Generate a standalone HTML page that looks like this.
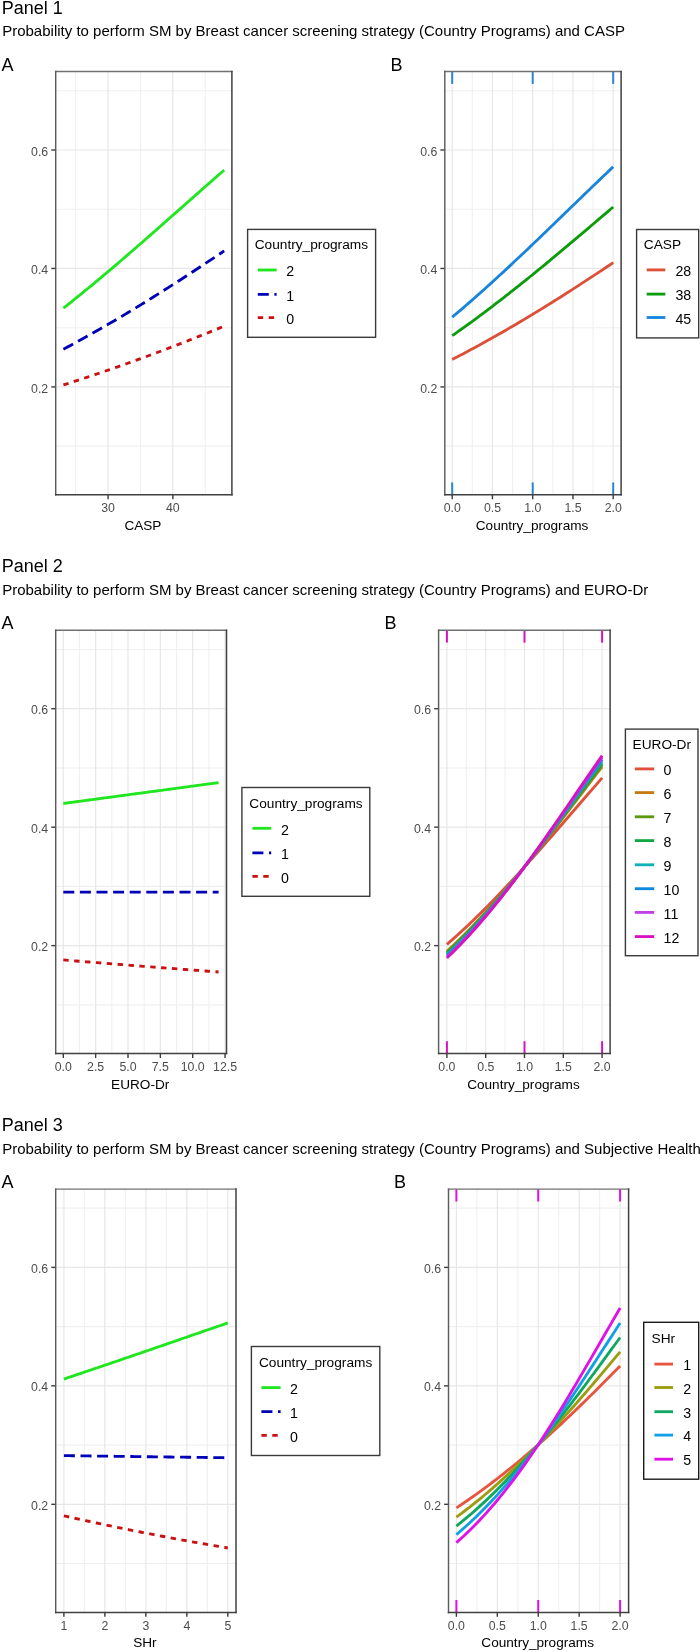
<!DOCTYPE html>
<html><head><meta charset="utf-8"><style>
html,body{margin:0;padding:0;background:#fff;width:700px;height:1652px;overflow:hidden;}
svg{display:block;filter:blur(0.35px);}
text{font-family:"Liberation Sans", sans-serif;}
</style></head><body>
<svg width="700" height="1652" viewBox="0 0 700 1652">
<rect width="700" height="1652" fill="#fff"/>
<text x="1.80" y="13.50" font-size="18" text-anchor="start" fill="#000" >Panel 1</text>
<text x="2.20" y="36.20" font-size="15" text-anchor="start" fill="#000" >Probability to perform SM by Breast cancer screening strategy (Country Programs) and CASP</text>
<text x="1.80" y="571.80" font-size="18" text-anchor="start" fill="#000" >Panel 2</text>
<text x="2.20" y="594.70" font-size="15" text-anchor="start" fill="#000" >Probability to perform SM by Breast cancer screening strategy (Country Programs) and EURO-Dr</text>
<text x="1.80" y="1131.20" font-size="18" text-anchor="start" fill="#000" >Panel 3</text>
<text x="2.20" y="1154.20" font-size="15" text-anchor="start" fill="#000" >Probability to perform SM by Breast cancer screening strategy (Country Programs) and Subjective Health</text>
<rect x="55.7" y="71.5" width="176.2" height="423.3" fill="#fff"/>
<line x1="55.7" x2="231.9" y1="446.15" y2="446.15" stroke="#f0f0f0" stroke-width="1.1"/>
<line x1="55.7" x2="231.9" y1="327.69" y2="327.69" stroke="#f0f0f0" stroke-width="1.1"/>
<line x1="55.7" x2="231.9" y1="209.23" y2="209.23" stroke="#f0f0f0" stroke-width="1.1"/>
<line x1="55.7" x2="231.9" y1="90.77" y2="90.77" stroke="#f0f0f0" stroke-width="1.1"/>
<line x1="75.65" x2="75.65" y1="71.5" y2="494.8" stroke="#f0f0f0" stroke-width="1.1"/>
<line x1="140.45" x2="140.45" y1="71.5" y2="494.8" stroke="#f0f0f0" stroke-width="1.1"/>
<line x1="205.25" x2="205.25" y1="71.5" y2="494.8" stroke="#f0f0f0" stroke-width="1.1"/>
<line x1="55.7" x2="231.9" y1="386.92" y2="386.92" stroke="#e7e7e7" stroke-width="1.2"/>
<line x1="55.7" x2="231.9" y1="268.46" y2="268.46" stroke="#e7e7e7" stroke-width="1.2"/>
<line x1="55.7" x2="231.9" y1="150.00" y2="150.00" stroke="#e7e7e7" stroke-width="1.2"/>
<line x1="108.05" x2="108.05" y1="71.5" y2="494.8" stroke="#e7e7e7" stroke-width="1.2"/>
<line x1="172.85" x2="172.85" y1="71.5" y2="494.8" stroke="#e7e7e7" stroke-width="1.2"/>
<line x1="51.30" x2="55.7" y1="386.92" y2="386.92" stroke="#3a3a3a" stroke-width="1.4"/>
<text x="48.20" y="392.52" font-size="12.3" text-anchor="end" fill="#4d4d4d" >0.2</text>
<line x1="51.30" x2="55.7" y1="268.46" y2="268.46" stroke="#3a3a3a" stroke-width="1.4"/>
<text x="48.20" y="274.06" font-size="12.3" text-anchor="end" fill="#4d4d4d" >0.4</text>
<line x1="51.30" x2="55.7" y1="150.00" y2="150.00" stroke="#3a3a3a" stroke-width="1.4"/>
<text x="48.20" y="155.60" font-size="12.3" text-anchor="end" fill="#4d4d4d" >0.6</text>
<line x1="108.05" x2="108.05" y1="494.8" y2="499.20" stroke="#3a3a3a" stroke-width="1.4"/>
<text x="108.05" y="512.30" font-size="12.3" text-anchor="middle" fill="#4d4d4d" >30</text>
<line x1="172.85" x2="172.85" y1="494.8" y2="499.20" stroke="#3a3a3a" stroke-width="1.4"/>
<text x="172.85" y="512.30" font-size="12.3" text-anchor="middle" fill="#4d4d4d" >40</text>
<text x="142.90" y="529.80" font-size="13.6" text-anchor="middle" fill="#000" >CASP</text>
<path d="M63.40,308.14 L66.08,306.03 L68.76,303.91 L71.44,301.78 L74.12,299.63 L76.80,297.48 L79.48,295.32 L82.16,293.14 L84.84,290.96 L87.52,288.76 L90.20,286.56 L92.88,284.35 L95.56,282.13 L98.24,279.90 L100.92,277.66 L103.59,275.41 L106.27,273.15 L108.95,270.89 L111.63,268.62 L114.31,266.34 L116.99,264.06 L119.67,261.76 L122.35,259.47 L125.03,257.16 L127.71,254.85 L130.39,252.54 L133.07,250.21 L135.75,247.89 L138.43,245.55 L141.11,243.22 L143.79,240.88 L146.47,238.53 L149.15,236.19 L151.83,233.83 L154.51,231.48 L157.18,229.12 L159.86,226.76 L162.54,224.40 L165.22,222.03 L167.90,219.67 L170.58,217.30 L173.26,214.93 L175.94,212.56 L178.62,210.19 L181.30,207.82 L183.98,205.45 L186.66,203.09 L189.34,200.72 L192.02,198.35 L194.70,195.98 L197.38,193.62 L200.06,191.26 L202.74,188.90 L205.42,186.54 L208.09,184.19 L210.77,181.84 L213.45,179.49 L216.13,177.14 L218.81,174.80 L221.49,172.47 L224.17,170.14" fill="none" stroke="#20e620" stroke-width="2.85" stroke-linecap="butt" stroke-linejoin="round"/>
<path d="M63.40,349.25 L66.08,347.82 L68.76,346.38 L71.44,344.94 L74.12,343.48 L76.80,342.02 L79.48,340.55 L82.16,339.07 L84.84,337.58 L87.52,336.09 L90.20,334.58 L92.88,333.07 L95.56,331.56 L98.24,330.03 L100.92,328.49 L103.59,326.95 L106.27,325.40 L108.95,323.85 L111.63,322.28 L114.31,320.71 L116.99,319.13 L119.67,317.54 L122.35,315.95 L125.03,314.35 L127.71,312.74 L130.39,311.13 L133.07,309.50 L135.75,307.88 L138.43,306.24 L141.11,304.60 L143.79,302.95 L146.47,301.29 L149.15,299.63 L151.83,297.96 L154.51,296.29 L157.18,294.61 L159.86,292.92 L162.54,291.23 L165.22,289.53 L167.90,287.83 L170.58,286.12 L173.26,284.41 L175.94,282.69 L178.62,280.96 L181.30,279.23 L183.98,277.49 L186.66,275.75 L189.34,274.01 L192.02,272.26 L194.70,270.50 L197.38,268.74 L200.06,266.98 L202.74,265.21 L205.42,263.44 L208.09,261.66 L210.77,259.88 L213.45,258.10 L216.13,256.31 L218.81,254.52 L221.49,252.73 L224.17,250.93" fill="none" stroke="#0000b8" stroke-width="2.85" stroke-linecap="butt" stroke-linejoin="round" stroke-dasharray="11 5.6"/>
<path d="M63.40,384.91 L66.08,384.06 L68.76,383.20 L71.44,382.34 L74.12,381.48 L76.80,380.61 L79.48,379.74 L82.16,378.86 L84.84,377.98 L87.52,377.09 L90.20,376.20 L92.88,375.31 L95.56,374.41 L98.24,373.50 L100.92,372.60 L103.59,371.68 L106.27,370.77 L108.95,369.85 L111.63,368.92 L114.31,367.99 L116.99,367.05 L119.67,366.12 L122.35,365.17 L125.03,364.22 L127.71,363.27 L130.39,362.32 L133.07,361.35 L135.75,360.39 L138.43,359.42 L141.11,358.44 L143.79,357.47 L146.47,356.48 L149.15,355.50 L151.83,354.50 L154.51,353.51 L157.18,352.51 L159.86,351.50 L162.54,350.50 L165.22,349.48 L167.90,348.47 L170.58,347.44 L173.26,346.42 L175.94,345.39 L178.62,344.35 L181.30,343.32 L183.98,342.27 L186.66,341.23 L189.34,340.18 L192.02,339.12 L194.70,338.06 L197.38,337.00 L200.06,335.93 L202.74,334.86 L205.42,333.79 L208.09,332.71 L210.77,331.62 L213.45,330.54 L216.13,329.45 L218.81,328.35 L221.49,327.25 L224.17,326.15" fill="none" stroke="#cc1010" stroke-width="2.85" stroke-linecap="butt" stroke-linejoin="round" stroke-dasharray="5.4 5.5"/>
<line x1="55.7" x2="231.9" y1="71.5" y2="71.5" stroke="#707070" stroke-width="1.35" stroke-linecap="square"/>
<line x1="55.7" x2="55.7" y1="71.5" y2="494.8" stroke="#5c5c5c" stroke-width="1.45" stroke-linecap="square"/>
<line x1="231.9" x2="231.9" y1="71.5" y2="494.8" stroke="#404040" stroke-width="1.5" stroke-linecap="square"/>
<line x1="55.7" x2="231.9" y1="494.8" y2="494.8" stroke="#404040" stroke-width="1.5" stroke-linecap="square"/>
<text x="1.50" y="70.80" font-size="18" text-anchor="start" fill="#000" >A</text>
<rect x="247.6" y="229.4" width="128.00000000000003" height="107.9" fill="#fff" stroke="#3a3a3a" stroke-width="1.4"/>
<text x="254.70" y="248.90" font-size="13.7" text-anchor="start" fill="#000" >Country_programs</text>
<line x1="257.8" x2="276.6" y1="270.0" y2="270.0" stroke="#20e620" stroke-width="2.85" stroke-linecap="butt"/>
<line x1="257.8" x2="276.6" y1="294.4" y2="294.4" stroke="#0000b8" stroke-width="2.85" stroke-dasharray="11 5.6" stroke-linecap="butt"/>
<line x1="257.8" x2="276.6" y1="317.6" y2="317.6" stroke="#cc1010" stroke-width="2.85" stroke-dasharray="5.4 5.5" stroke-linecap="butt"/>
<text x="286.30" y="276.20" font-size="14.2" text-anchor="start" fill="#000" >2</text>
<text x="286.30" y="300.60" font-size="14.2" text-anchor="start" fill="#000" >1</text>
<text x="286.30" y="323.80" font-size="14.2" text-anchor="start" fill="#000" >0</text>
<rect x="444.8" y="71.5" width="176.3" height="423.3" fill="#fff"/>
<line x1="444.8" x2="621.1" y1="446.15" y2="446.15" stroke="#f0f0f0" stroke-width="1.1"/>
<line x1="444.8" x2="621.1" y1="327.69" y2="327.69" stroke="#f0f0f0" stroke-width="1.1"/>
<line x1="444.8" x2="621.1" y1="209.23" y2="209.23" stroke="#f0f0f0" stroke-width="1.1"/>
<line x1="444.8" x2="621.1" y1="90.77" y2="90.77" stroke="#f0f0f0" stroke-width="1.1"/>
<line x1="472.32" x2="472.32" y1="71.5" y2="494.8" stroke="#f0f0f0" stroke-width="1.1"/>
<line x1="512.58" x2="512.58" y1="71.5" y2="494.8" stroke="#f0f0f0" stroke-width="1.1"/>
<line x1="552.83" x2="552.83" y1="71.5" y2="494.8" stroke="#f0f0f0" stroke-width="1.1"/>
<line x1="593.08" x2="593.08" y1="71.5" y2="494.8" stroke="#f0f0f0" stroke-width="1.1"/>
<line x1="444.8" x2="621.1" y1="386.92" y2="386.92" stroke="#e7e7e7" stroke-width="1.2"/>
<line x1="444.8" x2="621.1" y1="268.46" y2="268.46" stroke="#e7e7e7" stroke-width="1.2"/>
<line x1="444.8" x2="621.1" y1="150.00" y2="150.00" stroke="#e7e7e7" stroke-width="1.2"/>
<line x1="452.20" x2="452.20" y1="71.5" y2="494.8" stroke="#e7e7e7" stroke-width="1.2"/>
<line x1="492.45" x2="492.45" y1="71.5" y2="494.8" stroke="#e7e7e7" stroke-width="1.2"/>
<line x1="532.70" x2="532.70" y1="71.5" y2="494.8" stroke="#e7e7e7" stroke-width="1.2"/>
<line x1="572.95" x2="572.95" y1="71.5" y2="494.8" stroke="#e7e7e7" stroke-width="1.2"/>
<line x1="613.20" x2="613.20" y1="71.5" y2="494.8" stroke="#e7e7e7" stroke-width="1.2"/>
<line x1="440.40" x2="444.8" y1="386.92" y2="386.92" stroke="#3a3a3a" stroke-width="1.4"/>
<text x="437.30" y="392.52" font-size="12.3" text-anchor="end" fill="#4d4d4d" >0.2</text>
<line x1="440.40" x2="444.8" y1="268.46" y2="268.46" stroke="#3a3a3a" stroke-width="1.4"/>
<text x="437.30" y="274.06" font-size="12.3" text-anchor="end" fill="#4d4d4d" >0.4</text>
<line x1="440.40" x2="444.8" y1="150.00" y2="150.00" stroke="#3a3a3a" stroke-width="1.4"/>
<text x="437.30" y="155.60" font-size="12.3" text-anchor="end" fill="#4d4d4d" >0.6</text>
<line x1="452.20" x2="452.20" y1="494.8" y2="499.20" stroke="#3a3a3a" stroke-width="1.4"/>
<text x="452.20" y="512.30" font-size="12.3" text-anchor="middle" fill="#4d4d4d" >0.0</text>
<line x1="492.45" x2="492.45" y1="494.8" y2="499.20" stroke="#3a3a3a" stroke-width="1.4"/>
<text x="492.45" y="512.30" font-size="12.3" text-anchor="middle" fill="#4d4d4d" >0.5</text>
<line x1="532.70" x2="532.70" y1="494.8" y2="499.20" stroke="#3a3a3a" stroke-width="1.4"/>
<text x="532.70" y="512.30" font-size="12.3" text-anchor="middle" fill="#4d4d4d" >1.0</text>
<line x1="572.95" x2="572.95" y1="494.8" y2="499.20" stroke="#3a3a3a" stroke-width="1.4"/>
<text x="572.95" y="512.30" font-size="12.3" text-anchor="middle" fill="#4d4d4d" >1.5</text>
<line x1="613.20" x2="613.20" y1="494.8" y2="499.20" stroke="#3a3a3a" stroke-width="1.4"/>
<text x="613.20" y="512.30" font-size="12.3" text-anchor="middle" fill="#4d4d4d" >2.0</text>
<text x="532.05" y="529.80" font-size="13.6" text-anchor="middle" fill="#000" >Country_programs</text>
<path d="M452.20,359.50 L454.88,358.11 L457.57,356.72 L460.25,355.31 L462.93,353.90 L465.62,352.48 L468.30,351.05 L470.98,349.61 L473.67,348.17 L476.35,346.71 L479.03,345.25 L481.72,343.78 L484.40,342.30 L487.08,340.81 L489.77,339.31 L492.45,337.81 L495.13,336.29 L497.82,334.77 L500.50,333.24 L503.18,331.70 L505.87,330.16 L508.55,328.61 L511.23,327.04 L513.92,325.47 L516.60,323.90 L519.28,322.31 L521.97,320.72 L524.65,319.12 L527.33,317.51 L530.02,315.90 L532.70,314.27 L535.38,312.64 L538.07,311.01 L540.75,309.36 L543.43,307.71 L546.12,306.06 L548.80,304.39 L551.48,302.72 L554.17,301.04 L556.85,299.36 L559.53,297.67 L562.22,295.97 L564.90,294.27 L567.58,292.56 L570.27,290.84 L572.95,289.12 L575.63,287.39 L578.32,285.66 L581.00,283.92 L583.68,282.17 L586.37,280.42 L589.05,278.67 L591.73,276.91 L594.42,275.14 L597.10,273.37 L599.78,271.60 L602.47,269.82 L605.15,268.03 L607.83,266.25 L610.52,264.45 L613.20,262.66" fill="none" stroke="#dc5038" stroke-width="2.85" stroke-linecap="butt" stroke-linejoin="round"/>
<path d="M452.20,335.69 L454.88,333.81 L457.57,331.92 L460.25,330.02 L462.93,328.10 L465.62,326.17 L468.30,324.24 L470.98,322.29 L473.67,320.32 L476.35,318.35 L479.03,316.37 L481.72,314.37 L484.40,312.37 L487.08,310.35 L489.77,308.32 L492.45,306.28 L495.13,304.23 L497.82,302.18 L500.50,300.11 L503.18,298.03 L505.87,295.94 L508.55,293.84 L511.23,291.73 L513.92,289.62 L516.60,287.49 L519.28,285.36 L521.97,283.22 L524.65,281.07 L527.33,278.91 L530.02,276.74 L532.70,274.57 L535.38,272.39 L538.07,270.20 L540.75,268.00 L543.43,265.80 L546.12,263.59 L548.80,261.37 L551.48,259.15 L554.17,256.93 L556.85,254.69 L559.53,252.46 L562.22,250.21 L564.90,247.96 L567.58,245.71 L570.27,243.46 L572.95,241.19 L575.63,238.93 L578.32,236.66 L581.00,234.39 L583.68,232.12 L586.37,229.84 L589.05,227.56 L591.73,225.28 L594.42,222.99 L597.10,220.71 L599.78,218.42 L602.47,216.14 L605.15,213.85 L607.83,211.56 L610.52,209.27 L613.20,206.98" fill="none" stroke="#0c9c0c" stroke-width="2.85" stroke-linecap="butt" stroke-linejoin="round"/>
<path d="M452.20,317.21 L454.88,314.95 L457.57,312.67 L460.25,310.38 L462.93,308.08 L465.62,305.77 L468.30,303.44 L470.98,301.10 L473.67,298.74 L476.35,296.38 L479.03,294.00 L481.72,291.61 L484.40,289.20 L487.08,286.79 L489.77,284.36 L492.45,281.93 L495.13,279.48 L497.82,277.02 L500.50,274.56 L503.18,272.08 L505.87,269.59 L508.55,267.10 L511.23,264.60 L513.92,262.08 L516.60,259.57 L519.28,257.04 L521.97,254.50 L524.65,251.96 L527.33,249.42 L530.02,246.86 L532.70,244.30 L535.38,241.74 L538.07,239.17 L540.75,236.60 L543.43,234.02 L546.12,231.44 L548.80,228.85 L551.48,226.26 L554.17,223.67 L556.85,221.08 L559.53,218.49 L562.22,215.89 L564.90,213.29 L567.58,210.70 L570.27,208.10 L572.95,205.50 L575.63,202.90 L578.32,200.31 L581.00,197.71 L583.68,195.12 L586.37,192.53 L589.05,189.94 L591.73,187.35 L594.42,184.77 L597.10,182.19 L599.78,179.62 L602.47,177.05 L605.15,174.48 L607.83,171.92 L610.52,169.37 L613.20,166.82" fill="none" stroke="#1a84dc" stroke-width="2.85" stroke-linecap="butt" stroke-linejoin="round"/>
<line x1="452.20" x2="452.20" y1="71.5" y2="83.9" stroke="#2a86d2" stroke-width="2"/>
<line x1="452.20" x2="452.20" y1="482.40000000000003" y2="494.8" stroke="#2a86d2" stroke-width="2"/>
<line x1="532.70" x2="532.70" y1="71.5" y2="83.9" stroke="#2a86d2" stroke-width="2"/>
<line x1="532.70" x2="532.70" y1="482.40000000000003" y2="494.8" stroke="#2a86d2" stroke-width="2"/>
<line x1="613.20" x2="613.20" y1="71.5" y2="83.9" stroke="#2a86d2" stroke-width="2"/>
<line x1="613.20" x2="613.20" y1="482.40000000000003" y2="494.8" stroke="#2a86d2" stroke-width="2"/>
<line x1="444.8" x2="621.1" y1="71.5" y2="71.5" stroke="#707070" stroke-width="1.35" stroke-linecap="square"/>
<line x1="444.8" x2="444.8" y1="71.5" y2="494.8" stroke="#5c5c5c" stroke-width="1.45" stroke-linecap="square"/>
<line x1="621.1" x2="621.1" y1="71.5" y2="494.8" stroke="#404040" stroke-width="1.5" stroke-linecap="square"/>
<line x1="444.8" x2="621.1" y1="494.8" y2="494.8" stroke="#404040" stroke-width="1.5" stroke-linecap="square"/>
<text x="390.60" y="70.90" font-size="18" text-anchor="start" fill="#000" >B</text>
<rect x="636.6" y="229.5" width="62.10000000000002" height="108.39999999999998" fill="#fff" stroke="#3a3a3a" stroke-width="1.4"/>
<text x="643.80" y="249.30" font-size="13.7" text-anchor="start" fill="#000" >CASP</text>
<line x1="646.7" x2="665.3" y1="269.9" y2="269.9" stroke="#dc5038" stroke-width="2.85" stroke-linecap="butt"/>
<text x="675.40" y="276.10" font-size="14.2" text-anchor="start" fill="#000" >28</text>
<line x1="646.7" x2="665.3" y1="294.1" y2="294.1" stroke="#0c9c0c" stroke-width="2.85" stroke-linecap="butt"/>
<text x="675.40" y="300.30" font-size="14.2" text-anchor="start" fill="#000" >38</text>
<line x1="646.7" x2="665.3" y1="317.5" y2="317.5" stroke="#1a84dc" stroke-width="2.85" stroke-linecap="butt"/>
<text x="675.40" y="323.70" font-size="14.2" text-anchor="start" fill="#000" >45</text>
<rect x="55.7" y="630.2" width="170.8" height="423.39999999999986" fill="#fff"/>
<line x1="55.7" x2="226.5" y1="1004.85" y2="1004.85" stroke="#f0f0f0" stroke-width="1.1"/>
<line x1="55.7" x2="226.5" y1="886.39" y2="886.39" stroke="#f0f0f0" stroke-width="1.1"/>
<line x1="55.7" x2="226.5" y1="767.93" y2="767.93" stroke="#f0f0f0" stroke-width="1.1"/>
<line x1="55.7" x2="226.5" y1="649.47" y2="649.47" stroke="#f0f0f0" stroke-width="1.1"/>
<line x1="79.47" x2="79.47" y1="630.2" y2="1053.6" stroke="#f0f0f0" stroke-width="1.1"/>
<line x1="111.82" x2="111.82" y1="630.2" y2="1053.6" stroke="#f0f0f0" stroke-width="1.1"/>
<line x1="144.18" x2="144.18" y1="630.2" y2="1053.6" stroke="#f0f0f0" stroke-width="1.1"/>
<line x1="176.52" x2="176.52" y1="630.2" y2="1053.6" stroke="#f0f0f0" stroke-width="1.1"/>
<line x1="208.88" x2="208.88" y1="630.2" y2="1053.6" stroke="#f0f0f0" stroke-width="1.1"/>
<line x1="55.7" x2="226.5" y1="945.62" y2="945.62" stroke="#e7e7e7" stroke-width="1.2"/>
<line x1="55.7" x2="226.5" y1="827.16" y2="827.16" stroke="#e7e7e7" stroke-width="1.2"/>
<line x1="55.7" x2="226.5" y1="708.70" y2="708.70" stroke="#e7e7e7" stroke-width="1.2"/>
<line x1="63.30" x2="63.30" y1="630.2" y2="1053.6" stroke="#e7e7e7" stroke-width="1.2"/>
<line x1="95.65" x2="95.65" y1="630.2" y2="1053.6" stroke="#e7e7e7" stroke-width="1.2"/>
<line x1="128.00" x2="128.00" y1="630.2" y2="1053.6" stroke="#e7e7e7" stroke-width="1.2"/>
<line x1="160.35" x2="160.35" y1="630.2" y2="1053.6" stroke="#e7e7e7" stroke-width="1.2"/>
<line x1="192.70" x2="192.70" y1="630.2" y2="1053.6" stroke="#e7e7e7" stroke-width="1.2"/>
<line x1="225.05" x2="225.05" y1="630.2" y2="1053.6" stroke="#e7e7e7" stroke-width="1.2"/>
<line x1="51.30" x2="55.7" y1="945.62" y2="945.62" stroke="#3a3a3a" stroke-width="1.4"/>
<text x="48.20" y="951.22" font-size="12.3" text-anchor="end" fill="#4d4d4d" >0.2</text>
<line x1="51.30" x2="55.7" y1="827.16" y2="827.16" stroke="#3a3a3a" stroke-width="1.4"/>
<text x="48.20" y="832.76" font-size="12.3" text-anchor="end" fill="#4d4d4d" >0.4</text>
<line x1="51.30" x2="55.7" y1="708.70" y2="708.70" stroke="#3a3a3a" stroke-width="1.4"/>
<text x="48.20" y="714.30" font-size="12.3" text-anchor="end" fill="#4d4d4d" >0.6</text>
<line x1="63.30" x2="63.30" y1="1053.6" y2="1058.00" stroke="#3a3a3a" stroke-width="1.4"/>
<text x="63.30" y="1071.10" font-size="12.3" text-anchor="middle" fill="#4d4d4d" >0.0</text>
<line x1="95.65" x2="95.65" y1="1053.6" y2="1058.00" stroke="#3a3a3a" stroke-width="1.4"/>
<text x="95.65" y="1071.10" font-size="12.3" text-anchor="middle" fill="#4d4d4d" >2.5</text>
<line x1="128.00" x2="128.00" y1="1053.6" y2="1058.00" stroke="#3a3a3a" stroke-width="1.4"/>
<text x="128.00" y="1071.10" font-size="12.3" text-anchor="middle" fill="#4d4d4d" >5.0</text>
<line x1="160.35" x2="160.35" y1="1053.6" y2="1058.00" stroke="#3a3a3a" stroke-width="1.4"/>
<text x="160.35" y="1071.10" font-size="12.3" text-anchor="middle" fill="#4d4d4d" >7.5</text>
<line x1="192.70" x2="192.70" y1="1053.6" y2="1058.00" stroke="#3a3a3a" stroke-width="1.4"/>
<text x="192.70" y="1071.10" font-size="12.3" text-anchor="middle" fill="#4d4d4d" >10.0</text>
<line x1="225.05" x2="225.05" y1="1053.6" y2="1058.00" stroke="#3a3a3a" stroke-width="1.4"/>
<text x="225.05" y="1071.10" font-size="12.3" text-anchor="middle" fill="#4d4d4d" >12.5</text>
<text x="140.20" y="1088.60" font-size="13.6" text-anchor="middle" fill="#000" >EURO-Dr</text>
<path d="M63.30,803.47 L65.89,803.12 L68.48,802.78 L71.06,802.43 L73.65,802.09 L76.24,801.74 L78.83,801.40 L81.42,801.05 L84.00,800.70 L86.59,800.36 L89.18,800.01 L91.77,799.67 L94.36,799.32 L96.94,798.97 L99.53,798.63 L102.12,798.28 L104.71,797.93 L107.30,797.59 L109.88,797.24 L112.47,796.89 L115.06,796.55 L117.65,796.20 L120.24,795.85 L122.82,795.51 L125.41,795.16 L128.00,794.81 L130.59,794.46 L133.18,794.12 L135.76,793.77 L138.35,793.42 L140.94,793.07 L143.53,792.73 L146.12,792.38 L148.70,792.03 L151.29,791.68 L153.88,791.34 L156.47,790.99 L159.06,790.64 L161.64,790.29 L164.23,789.94 L166.82,789.60 L169.41,789.25 L172.00,788.90 L174.58,788.55 L177.17,788.20 L179.76,787.85 L182.35,787.50 L184.94,787.16 L187.52,786.81 L190.11,786.46 L192.70,786.11 L195.29,785.76 L197.88,785.41 L200.46,785.06 L203.05,784.71 L205.64,784.36 L208.23,784.02 L210.82,783.67 L213.40,783.32 L215.99,782.97 L218.58,782.62" fill="none" stroke="#20e620" stroke-width="2.85" stroke-linecap="butt" stroke-linejoin="round"/>
<path d="M63.30,892.14 L65.89,892.14 L68.48,892.14 L71.06,892.14 L73.65,892.14 L76.24,892.14 L78.83,892.14 L81.42,892.14 L84.00,892.14 L86.59,892.14 L89.18,892.14 L91.77,892.14 L94.36,892.14 L96.94,892.14 L99.53,892.14 L102.12,892.14 L104.71,892.14 L107.30,892.14 L109.88,892.14 L112.47,892.14 L115.06,892.14 L117.65,892.14 L120.24,892.14 L122.82,892.14 L125.41,892.14 L128.00,892.14 L130.59,892.14 L133.18,892.14 L135.76,892.14 L138.35,892.14 L140.94,892.14 L143.53,892.14 L146.12,892.14 L148.70,892.14 L151.29,892.14 L153.88,892.14 L156.47,892.14 L159.06,892.14 L161.64,892.14 L164.23,892.14 L166.82,892.14 L169.41,892.14 L172.00,892.14 L174.58,892.14 L177.17,892.14 L179.76,892.14 L182.35,892.14 L184.94,892.14 L187.52,892.14 L190.11,892.14 L192.70,892.14 L195.29,892.14 L197.88,892.14 L200.46,892.14 L203.05,892.14 L205.64,892.14 L208.23,892.14 L210.82,892.14 L213.40,892.14 L215.99,892.14 L218.58,892.14" fill="none" stroke="#0000b8" stroke-width="2.85" stroke-linecap="butt" stroke-linejoin="round" stroke-dasharray="11 5.6"/>
<path d="M63.30,959.95 L65.89,960.16 L68.48,960.37 L71.06,960.58 L73.65,960.79 L76.24,961.00 L78.83,961.21 L81.42,961.42 L84.00,961.63 L86.59,961.83 L89.18,962.04 L91.77,962.25 L94.36,962.45 L96.94,962.66 L99.53,962.87 L102.12,963.07 L104.71,963.28 L107.30,963.48 L109.88,963.69 L112.47,963.89 L115.06,964.09 L117.65,964.30 L120.24,964.50 L122.82,964.70 L125.41,964.91 L128.00,965.11 L130.59,965.31 L133.18,965.51 L135.76,965.71 L138.35,965.91 L140.94,966.11 L143.53,966.31 L146.12,966.51 L148.70,966.71 L151.29,966.91 L153.88,967.11 L156.47,967.31 L159.06,967.51 L161.64,967.71 L164.23,967.90 L166.82,968.10 L169.41,968.30 L172.00,968.49 L174.58,968.69 L177.17,968.89 L179.76,969.08 L182.35,969.28 L184.94,969.47 L187.52,969.67 L190.11,969.86 L192.70,970.06 L195.29,970.25 L197.88,970.44 L200.46,970.64 L203.05,970.83 L205.64,971.02 L208.23,971.21 L210.82,971.40 L213.40,971.60 L215.99,971.79 L218.58,971.98" fill="none" stroke="#cc1010" stroke-width="2.85" stroke-linecap="butt" stroke-linejoin="round" stroke-dasharray="5.4 5.5"/>
<line x1="55.7" x2="226.5" y1="630.2" y2="630.2" stroke="#707070" stroke-width="1.35" stroke-linecap="square"/>
<line x1="55.7" x2="55.7" y1="630.2" y2="1053.6" stroke="#5c5c5c" stroke-width="1.45" stroke-linecap="square"/>
<line x1="226.5" x2="226.5" y1="630.2" y2="1053.6" stroke="#404040" stroke-width="1.5" stroke-linecap="square"/>
<line x1="55.7" x2="226.5" y1="1053.6" y2="1053.6" stroke="#404040" stroke-width="1.5" stroke-linecap="square"/>
<text x="1.50" y="629.30" font-size="18" text-anchor="start" fill="#000" >A</text>
<rect x="241.9" y="787.5" width="127.9" height="108.79999999999995" fill="#fff" stroke="#3a3a3a" stroke-width="1.4"/>
<text x="249.30" y="808.20" font-size="13.7" text-anchor="start" fill="#000" >Country_programs</text>
<line x1="252.4" x2="271.2" y1="828.3" y2="828.3" stroke="#20e620" stroke-width="2.85" stroke-linecap="butt"/>
<line x1="252.4" x2="271.2" y1="852.8" y2="852.8" stroke="#0000b8" stroke-width="2.85" stroke-dasharray="11 5.6" stroke-linecap="butt"/>
<line x1="252.4" x2="271.2" y1="876.3" y2="876.3" stroke="#cc1010" stroke-width="2.85" stroke-dasharray="5.4 5.5" stroke-linecap="butt"/>
<text x="280.90" y="834.50" font-size="14.2" text-anchor="start" fill="#000" >2</text>
<text x="280.90" y="859.00" font-size="14.2" text-anchor="start" fill="#000" >1</text>
<text x="280.90" y="882.50" font-size="14.2" text-anchor="start" fill="#000" >0</text>
<rect x="438.6" y="630.2" width="171.5" height="423.39999999999986" fill="#fff"/>
<line x1="438.6" x2="610.1" y1="1004.85" y2="1004.85" stroke="#f0f0f0" stroke-width="1.1"/>
<line x1="438.6" x2="610.1" y1="886.39" y2="886.39" stroke="#f0f0f0" stroke-width="1.1"/>
<line x1="438.6" x2="610.1" y1="767.93" y2="767.93" stroke="#f0f0f0" stroke-width="1.1"/>
<line x1="438.6" x2="610.1" y1="649.47" y2="649.47" stroke="#f0f0f0" stroke-width="1.1"/>
<line x1="466.30" x2="466.30" y1="630.2" y2="1053.6" stroke="#f0f0f0" stroke-width="1.1"/>
<line x1="505.10" x2="505.10" y1="630.2" y2="1053.6" stroke="#f0f0f0" stroke-width="1.1"/>
<line x1="543.90" x2="543.90" y1="630.2" y2="1053.6" stroke="#f0f0f0" stroke-width="1.1"/>
<line x1="582.70" x2="582.70" y1="630.2" y2="1053.6" stroke="#f0f0f0" stroke-width="1.1"/>
<line x1="438.6" x2="610.1" y1="945.62" y2="945.62" stroke="#e7e7e7" stroke-width="1.2"/>
<line x1="438.6" x2="610.1" y1="827.16" y2="827.16" stroke="#e7e7e7" stroke-width="1.2"/>
<line x1="438.6" x2="610.1" y1="708.70" y2="708.70" stroke="#e7e7e7" stroke-width="1.2"/>
<line x1="446.90" x2="446.90" y1="630.2" y2="1053.6" stroke="#e7e7e7" stroke-width="1.2"/>
<line x1="485.70" x2="485.70" y1="630.2" y2="1053.6" stroke="#e7e7e7" stroke-width="1.2"/>
<line x1="524.50" x2="524.50" y1="630.2" y2="1053.6" stroke="#e7e7e7" stroke-width="1.2"/>
<line x1="563.30" x2="563.30" y1="630.2" y2="1053.6" stroke="#e7e7e7" stroke-width="1.2"/>
<line x1="602.10" x2="602.10" y1="630.2" y2="1053.6" stroke="#e7e7e7" stroke-width="1.2"/>
<line x1="434.20" x2="438.6" y1="945.62" y2="945.62" stroke="#3a3a3a" stroke-width="1.4"/>
<text x="431.10" y="951.22" font-size="12.3" text-anchor="end" fill="#4d4d4d" >0.2</text>
<line x1="434.20" x2="438.6" y1="827.16" y2="827.16" stroke="#3a3a3a" stroke-width="1.4"/>
<text x="431.10" y="832.76" font-size="12.3" text-anchor="end" fill="#4d4d4d" >0.4</text>
<line x1="434.20" x2="438.6" y1="708.70" y2="708.70" stroke="#3a3a3a" stroke-width="1.4"/>
<text x="431.10" y="714.30" font-size="12.3" text-anchor="end" fill="#4d4d4d" >0.6</text>
<line x1="446.90" x2="446.90" y1="1053.6" y2="1058.00" stroke="#3a3a3a" stroke-width="1.4"/>
<text x="446.90" y="1071.10" font-size="12.3" text-anchor="middle" fill="#4d4d4d" >0.0</text>
<line x1="485.70" x2="485.70" y1="1053.6" y2="1058.00" stroke="#3a3a3a" stroke-width="1.4"/>
<text x="485.70" y="1071.10" font-size="12.3" text-anchor="middle" fill="#4d4d4d" >0.5</text>
<line x1="524.50" x2="524.50" y1="1053.6" y2="1058.00" stroke="#3a3a3a" stroke-width="1.4"/>
<text x="524.50" y="1071.10" font-size="12.3" text-anchor="middle" fill="#4d4d4d" >1.0</text>
<line x1="563.30" x2="563.30" y1="1053.6" y2="1058.00" stroke="#3a3a3a" stroke-width="1.4"/>
<text x="563.30" y="1071.10" font-size="12.3" text-anchor="middle" fill="#4d4d4d" >1.5</text>
<line x1="602.10" x2="602.10" y1="1053.6" y2="1058.00" stroke="#3a3a3a" stroke-width="1.4"/>
<text x="602.10" y="1071.10" font-size="12.3" text-anchor="middle" fill="#4d4d4d" >2.0</text>
<text x="523.45" y="1088.60" font-size="13.6" text-anchor="middle" fill="#000" >Country_programs</text>
<path d="M446.90,944.44 L449.49,942.18 L452.07,939.90 L454.66,937.60 L457.25,935.27 L459.83,932.91 L462.42,930.53 L465.01,928.12 L467.59,925.69 L470.18,923.24 L472.77,920.76 L475.35,918.26 L477.94,915.74 L480.53,913.20 L483.11,910.63 L485.70,908.04 L488.29,905.43 L490.87,902.80 L493.46,900.14 L496.05,897.47 L498.63,894.78 L501.22,892.07 L503.81,889.34 L506.39,886.59 L508.98,883.83 L511.57,881.05 L514.15,878.25 L516.74,875.43 L519.33,872.60 L521.91,869.76 L524.50,866.90 L527.09,864.03 L529.67,861.15 L532.26,858.25 L534.85,855.34 L537.43,852.43 L540.02,849.50 L542.61,846.56 L545.19,843.61 L547.78,840.66 L550.37,837.69 L552.95,834.72 L555.54,831.75 L558.13,828.77 L560.71,825.78 L563.30,822.79 L565.89,819.79 L568.47,816.80 L571.06,813.80 L573.65,810.80 L576.23,807.79 L578.82,804.79 L581.41,801.79 L583.99,798.79 L586.58,795.79 L589.17,792.80 L591.75,789.81 L594.34,786.82 L596.93,783.83 L599.51,780.85 L602.10,777.88" fill="none" stroke="#e0503a" stroke-width="2.85" stroke-linecap="butt" stroke-linejoin="round"/>
<path d="M446.90,951.26 L449.49,948.88 L452.07,946.47 L454.66,944.02 L457.25,941.54 L459.83,939.03 L462.42,936.49 L465.01,933.92 L467.59,931.31 L470.18,928.68 L472.77,926.01 L475.35,923.31 L477.94,920.59 L480.53,917.83 L483.11,915.04 L485.70,912.23 L488.29,909.38 L490.87,906.51 L493.46,903.61 L496.05,900.69 L498.63,897.73 L501.22,894.76 L503.81,891.75 L506.39,888.73 L508.98,885.67 L511.57,882.60 L514.15,879.50 L516.74,876.38 L519.33,873.24 L521.91,870.08 L524.50,866.90 L527.09,863.71 L529.67,860.49 L532.26,857.26 L534.85,854.01 L537.43,850.74 L540.02,847.46 L542.61,844.17 L545.19,840.86 L547.78,837.55 L550.37,834.22 L552.95,830.88 L555.54,827.53 L558.13,824.17 L560.71,820.81 L563.30,817.44 L565.89,814.07 L568.47,810.69 L571.06,807.30 L573.65,803.92 L576.23,800.53 L578.82,797.14 L581.41,793.76 L583.99,790.37 L586.58,786.99 L589.17,783.60 L591.75,780.23 L594.34,776.85 L596.93,773.49 L599.51,770.13 L602.10,766.78" fill="none" stroke="#c47c10" stroke-width="2.85" stroke-linecap="butt" stroke-linejoin="round"/>
<path d="M446.90,952.40 L449.49,950.00 L452.07,947.56 L454.66,945.10 L457.25,942.59 L459.83,940.06 L462.42,937.49 L465.01,934.89 L467.59,932.26 L470.18,929.59 L472.77,926.89 L475.35,924.16 L477.94,921.40 L480.53,918.61 L483.11,915.79 L485.70,912.93 L488.29,910.05 L490.87,907.14 L493.46,904.20 L496.05,901.23 L498.63,898.23 L501.22,895.21 L503.81,892.16 L506.39,889.09 L508.98,885.99 L511.57,882.86 L514.15,879.71 L516.74,876.54 L519.33,873.35 L521.91,870.14 L524.50,866.90 L527.09,863.65 L529.67,860.38 L532.26,857.09 L534.85,853.78 L537.43,850.46 L540.02,847.12 L542.61,843.77 L545.19,840.40 L547.78,837.02 L550.37,833.63 L552.95,830.23 L555.54,826.82 L558.13,823.40 L560.71,819.97 L563.30,816.54 L565.89,813.10 L568.47,809.66 L571.06,806.21 L573.65,802.76 L576.23,799.31 L578.82,795.86 L581.41,792.41 L583.99,788.96 L586.58,785.51 L589.17,782.07 L591.75,778.63 L594.34,775.19 L596.93,771.76 L599.51,768.34 L602.10,764.92" fill="none" stroke="#5e9810" stroke-width="2.85" stroke-linecap="butt" stroke-linejoin="round"/>
<path d="M446.90,953.53 L449.49,951.11 L452.07,948.66 L454.66,946.17 L457.25,943.64 L459.83,941.08 L462.42,938.49 L465.01,935.86 L467.59,933.20 L470.18,930.50 L472.77,927.77 L475.35,925.01 L477.94,922.22 L480.53,919.39 L483.11,916.53 L485.70,913.64 L488.29,910.72 L490.87,907.77 L493.46,904.78 L496.05,901.77 L498.63,898.73 L501.22,895.66 L503.81,892.57 L506.39,889.45 L508.98,886.30 L511.57,883.12 L514.15,879.93 L516.74,876.70 L519.33,873.46 L521.91,870.19 L524.50,866.90 L527.09,863.59 L529.67,860.27 L532.26,856.92 L534.85,853.55 L537.43,850.17 L540.02,846.77 L542.61,843.36 L545.19,839.93 L547.78,836.49 L550.37,833.04 L552.95,829.58 L555.54,826.11 L558.13,822.62 L560.71,819.14 L563.30,815.64 L565.89,812.14 L568.47,808.63 L571.06,805.12 L573.65,801.60 L576.23,798.09 L578.82,794.57 L581.41,791.06 L583.99,787.54 L586.58,784.03 L589.17,780.53 L591.75,777.02 L594.34,773.52 L596.93,770.03 L599.51,766.55 L602.10,763.07" fill="none" stroke="#10a840" stroke-width="2.85" stroke-linecap="butt" stroke-linejoin="round"/>
<path d="M446.90,954.67 L449.49,952.23 L452.07,949.76 L454.66,947.24 L457.25,944.70 L459.83,942.11 L462.42,939.49 L465.01,936.84 L467.59,934.15 L470.18,931.42 L472.77,928.66 L475.35,925.86 L477.94,923.03 L480.53,920.17 L483.11,917.28 L485.70,914.35 L488.29,911.39 L490.87,908.39 L493.46,905.37 L496.05,902.32 L498.63,899.23 L501.22,896.12 L503.81,892.98 L506.39,889.81 L508.98,886.61 L511.57,883.39 L514.15,880.14 L516.74,876.87 L519.33,873.57 L521.91,870.25 L524.50,866.90 L527.09,863.54 L529.67,860.15 L532.26,856.75 L534.85,853.33 L537.43,849.88 L540.02,846.43 L542.61,842.95 L545.19,839.47 L547.78,835.96 L550.37,832.45 L552.95,828.93 L555.54,825.39 L558.13,821.85 L560.71,818.29 L563.30,814.73 L565.89,811.17 L568.47,807.60 L571.06,804.02 L573.65,800.44 L576.23,796.86 L578.82,793.28 L581.41,789.71 L583.99,786.13 L586.58,782.55 L589.17,778.98 L591.75,775.42 L594.34,771.86 L596.93,768.30 L599.51,764.76 L602.10,761.22" fill="none" stroke="#10b0b8" stroke-width="2.85" stroke-linecap="butt" stroke-linejoin="round"/>
<path d="M446.90,955.81 L449.49,953.35 L452.07,950.85 L454.66,948.32 L457.25,945.75 L459.83,943.14 L462.42,940.49 L465.01,937.81 L467.59,935.09 L470.18,932.34 L472.77,929.54 L475.35,926.72 L477.94,923.85 L480.53,920.96 L483.11,918.02 L485.70,915.06 L488.29,912.06 L490.87,909.03 L493.46,905.96 L496.05,902.86 L498.63,899.74 L501.22,896.58 L503.81,893.39 L506.39,890.17 L508.98,886.93 L511.57,883.65 L514.15,880.35 L516.74,877.03 L519.33,873.68 L521.91,870.30 L524.50,866.90 L527.09,863.48 L529.67,860.04 L532.26,856.58 L534.85,853.10 L537.43,849.60 L540.02,846.08 L542.61,842.55 L545.19,839.00 L547.78,835.43 L550.37,831.86 L552.95,828.27 L555.54,824.67 L558.13,821.06 L560.71,817.45 L563.30,813.82 L565.89,810.19 L568.47,806.56 L571.06,802.92 L573.65,799.28 L576.23,795.64 L578.82,791.99 L581.41,788.35 L583.99,784.71 L586.58,781.07 L589.17,777.44 L591.75,773.81 L594.34,770.19 L596.93,766.57 L599.51,762.97 L602.10,759.37" fill="none" stroke="#1088e0" stroke-width="2.85" stroke-linecap="butt" stroke-linejoin="round"/>
<path d="M446.90,956.94 L449.49,954.47 L452.07,951.95 L454.66,949.40 L457.25,946.80 L459.83,944.17 L462.42,941.50 L465.01,938.79 L467.59,936.04 L470.18,933.26 L472.77,930.43 L475.35,927.57 L477.94,924.68 L480.53,921.74 L483.11,918.78 L485.70,915.77 L488.29,912.73 L490.87,909.66 L493.46,906.55 L496.05,903.41 L498.63,900.24 L501.22,897.04 L503.81,893.80 L506.39,890.54 L508.98,887.24 L511.57,883.92 L514.15,880.57 L516.74,877.19 L519.33,873.79 L521.91,870.36 L524.50,866.90 L527.09,863.43 L529.67,859.93 L532.26,856.41 L534.85,852.87 L537.43,849.31 L540.02,845.73 L542.61,842.14 L545.19,838.53 L547.78,834.90 L550.37,831.26 L552.95,827.61 L555.54,823.95 L558.13,820.28 L560.71,816.60 L563.30,812.91 L565.89,809.22 L568.47,805.52 L571.06,801.82 L573.65,798.11 L576.23,794.40 L578.82,790.70 L581.41,786.99 L583.99,783.29 L586.58,779.59 L589.17,775.89 L591.75,772.20 L594.34,768.52 L596.93,764.84 L599.51,761.18 L602.10,757.52" fill="none" stroke="#c040e8" stroke-width="2.85" stroke-linecap="butt" stroke-linejoin="round"/>
<path d="M446.90,958.08 L449.49,955.59 L452.07,953.05 L454.66,950.47 L457.25,947.86 L459.83,945.20 L462.42,942.50 L465.01,939.77 L467.59,936.99 L470.18,934.18 L472.77,931.32 L475.35,928.43 L477.94,925.50 L480.53,922.53 L483.11,919.53 L485.70,916.49 L488.29,913.41 L490.87,910.30 L493.46,907.15 L496.05,903.97 L498.63,900.75 L501.22,897.50 L503.81,894.22 L506.39,890.90 L508.98,887.56 L511.57,884.19 L514.15,880.78 L516.74,877.35 L519.33,873.90 L521.91,870.41 L524.50,866.90 L527.09,863.37 L529.67,859.81 L532.26,856.24 L534.85,852.64 L537.43,849.02 L540.02,845.38 L542.61,841.72 L545.19,838.05 L547.78,834.37 L550.37,830.67 L552.95,826.95 L555.54,823.23 L558.13,819.49 L560.71,815.75 L563.30,812.00 L565.89,808.24 L568.47,804.48 L571.06,800.71 L573.65,796.94 L576.23,793.17 L578.82,789.40 L581.41,785.63 L583.99,781.86 L586.58,778.10 L589.17,774.34 L591.75,770.59 L594.34,766.85 L596.93,763.11 L599.51,759.38 L602.10,755.67" fill="none" stroke="#d812c0" stroke-width="2.85" stroke-linecap="butt" stroke-linejoin="round"/>
<line x1="446.90" x2="446.90" y1="630.2" y2="642.6" stroke="#d812c0" stroke-width="2"/>
<line x1="446.90" x2="446.90" y1="1041.1999999999998" y2="1053.6" stroke="#d812c0" stroke-width="2"/>
<line x1="524.50" x2="524.50" y1="630.2" y2="642.6" stroke="#d812c0" stroke-width="2"/>
<line x1="524.50" x2="524.50" y1="1041.1999999999998" y2="1053.6" stroke="#d812c0" stroke-width="2"/>
<line x1="602.10" x2="602.10" y1="630.2" y2="642.6" stroke="#d812c0" stroke-width="2"/>
<line x1="602.10" x2="602.10" y1="1041.1999999999998" y2="1053.6" stroke="#d812c0" stroke-width="2"/>
<line x1="438.6" x2="610.1" y1="630.2" y2="630.2" stroke="#707070" stroke-width="1.35" stroke-linecap="square"/>
<line x1="438.6" x2="438.6" y1="630.2" y2="1053.6" stroke="#5c5c5c" stroke-width="1.45" stroke-linecap="square"/>
<line x1="610.1" x2="610.1" y1="630.2" y2="1053.6" stroke="#404040" stroke-width="1.5" stroke-linecap="square"/>
<line x1="438.6" x2="610.1" y1="1053.6" y2="1053.6" stroke="#404040" stroke-width="1.5" stroke-linecap="square"/>
<text x="384.50" y="629.30" font-size="18" text-anchor="start" fill="#000" >B</text>
<rect x="625.4" y="729.1" width="72.60000000000002" height="226.60000000000002" fill="#fff" stroke="#3a3a3a" stroke-width="1.4"/>
<text x="632.50" y="748.70" font-size="13.7" text-anchor="start" fill="#000" >EURO-Dr</text>
<line x1="634.8" x2="654.2" y1="768.9" y2="768.9" stroke="#e0503a" stroke-width="2.85" stroke-linecap="butt"/>
<text x="663.60" y="775.10" font-size="14.2" text-anchor="start" fill="#000" >0</text>
<line x1="634.8" x2="654.2" y1="792.6" y2="792.6" stroke="#c47c10" stroke-width="2.85" stroke-linecap="butt"/>
<text x="663.60" y="798.80" font-size="14.2" text-anchor="start" fill="#000" >6</text>
<line x1="634.8" x2="654.2" y1="816.8" y2="816.8" stroke="#5e9810" stroke-width="2.85" stroke-linecap="butt"/>
<text x="663.60" y="823.00" font-size="14.2" text-anchor="start" fill="#000" >7</text>
<line x1="634.8" x2="654.2" y1="840.6" y2="840.6" stroke="#10a840" stroke-width="2.85" stroke-linecap="butt"/>
<text x="663.60" y="846.80" font-size="14.2" text-anchor="start" fill="#000" >8</text>
<line x1="634.8" x2="654.2" y1="864.8" y2="864.8" stroke="#10b0b8" stroke-width="2.85" stroke-linecap="butt"/>
<text x="663.60" y="871.00" font-size="14.2" text-anchor="start" fill="#000" >9</text>
<line x1="634.8" x2="654.2" y1="888.7" y2="888.7" stroke="#1088e0" stroke-width="2.85" stroke-linecap="butt"/>
<text x="663.60" y="894.90" font-size="14.2" text-anchor="start" fill="#000" >10</text>
<line x1="634.8" x2="654.2" y1="912.4" y2="912.4" stroke="#c040e8" stroke-width="2.85" stroke-linecap="butt"/>
<text x="663.60" y="918.60" font-size="14.2" text-anchor="start" fill="#000" >11</text>
<line x1="634.8" x2="654.2" y1="936.6" y2="936.6" stroke="#d812c0" stroke-width="2.85" stroke-linecap="butt"/>
<text x="663.60" y="942.80" font-size="14.2" text-anchor="start" fill="#000" >12</text>
<rect x="55.7" y="1189.1" width="180.3" height="423.3000000000002" fill="#fff"/>
<line x1="55.7" x2="236.0" y1="1563.55" y2="1563.55" stroke="#f0f0f0" stroke-width="1.1"/>
<line x1="55.7" x2="236.0" y1="1445.09" y2="1445.09" stroke="#f0f0f0" stroke-width="1.1"/>
<line x1="55.7" x2="236.0" y1="1326.63" y2="1326.63" stroke="#f0f0f0" stroke-width="1.1"/>
<line x1="55.7" x2="236.0" y1="1208.17" y2="1208.17" stroke="#f0f0f0" stroke-width="1.1"/>
<line x1="84.39" x2="84.39" y1="1189.1" y2="1612.4" stroke="#f0f0f0" stroke-width="1.1"/>
<line x1="125.37" x2="125.37" y1="1189.1" y2="1612.4" stroke="#f0f0f0" stroke-width="1.1"/>
<line x1="166.35" x2="166.35" y1="1189.1" y2="1612.4" stroke="#f0f0f0" stroke-width="1.1"/>
<line x1="207.33" x2="207.33" y1="1189.1" y2="1612.4" stroke="#f0f0f0" stroke-width="1.1"/>
<line x1="55.7" x2="236.0" y1="1504.32" y2="1504.32" stroke="#e7e7e7" stroke-width="1.2"/>
<line x1="55.7" x2="236.0" y1="1385.86" y2="1385.86" stroke="#e7e7e7" stroke-width="1.2"/>
<line x1="55.7" x2="236.0" y1="1267.40" y2="1267.40" stroke="#e7e7e7" stroke-width="1.2"/>
<line x1="63.90" x2="63.90" y1="1189.1" y2="1612.4" stroke="#e7e7e7" stroke-width="1.2"/>
<line x1="104.88" x2="104.88" y1="1189.1" y2="1612.4" stroke="#e7e7e7" stroke-width="1.2"/>
<line x1="145.86" x2="145.86" y1="1189.1" y2="1612.4" stroke="#e7e7e7" stroke-width="1.2"/>
<line x1="186.84" x2="186.84" y1="1189.1" y2="1612.4" stroke="#e7e7e7" stroke-width="1.2"/>
<line x1="227.82" x2="227.82" y1="1189.1" y2="1612.4" stroke="#e7e7e7" stroke-width="1.2"/>
<line x1="51.30" x2="55.7" y1="1504.32" y2="1504.32" stroke="#3a3a3a" stroke-width="1.4"/>
<text x="48.20" y="1509.92" font-size="12.3" text-anchor="end" fill="#4d4d4d" >0.2</text>
<line x1="51.30" x2="55.7" y1="1385.86" y2="1385.86" stroke="#3a3a3a" stroke-width="1.4"/>
<text x="48.20" y="1391.46" font-size="12.3" text-anchor="end" fill="#4d4d4d" >0.4</text>
<line x1="51.30" x2="55.7" y1="1267.40" y2="1267.40" stroke="#3a3a3a" stroke-width="1.4"/>
<text x="48.20" y="1273.00" font-size="12.3" text-anchor="end" fill="#4d4d4d" >0.6</text>
<line x1="63.90" x2="63.90" y1="1612.4" y2="1616.80" stroke="#3a3a3a" stroke-width="1.4"/>
<text x="63.90" y="1629.90" font-size="12.3" text-anchor="middle" fill="#4d4d4d" >1</text>
<line x1="104.88" x2="104.88" y1="1612.4" y2="1616.80" stroke="#3a3a3a" stroke-width="1.4"/>
<text x="104.88" y="1629.90" font-size="12.3" text-anchor="middle" fill="#4d4d4d" >2</text>
<line x1="145.86" x2="145.86" y1="1612.4" y2="1616.80" stroke="#3a3a3a" stroke-width="1.4"/>
<text x="145.86" y="1629.90" font-size="12.3" text-anchor="middle" fill="#4d4d4d" >3</text>
<line x1="186.84" x2="186.84" y1="1612.4" y2="1616.80" stroke="#3a3a3a" stroke-width="1.4"/>
<text x="186.84" y="1629.90" font-size="12.3" text-anchor="middle" fill="#4d4d4d" >4</text>
<line x1="227.82" x2="227.82" y1="1612.4" y2="1616.80" stroke="#3a3a3a" stroke-width="1.4"/>
<text x="227.82" y="1629.90" font-size="12.3" text-anchor="middle" fill="#4d4d4d" >5</text>
<text x="144.95" y="1647.40" font-size="13.6" text-anchor="middle" fill="#000" >SHr</text>
<path d="M63.90,1379.05 L66.63,1378.13 L69.36,1377.22 L72.10,1376.30 L74.83,1375.38 L77.56,1374.46 L80.29,1373.54 L83.02,1372.62 L85.76,1371.69 L88.49,1370.77 L91.22,1369.84 L93.95,1368.92 L96.68,1367.99 L99.42,1367.07 L102.15,1366.14 L104.88,1365.21 L107.61,1364.28 L110.34,1363.35 L113.08,1362.42 L115.81,1361.49 L118.54,1360.55 L121.27,1359.62 L124.00,1358.69 L126.74,1357.75 L129.47,1356.82 L132.20,1355.88 L134.93,1354.95 L137.66,1354.01 L140.40,1353.07 L143.13,1352.13 L145.86,1351.20 L148.59,1350.26 L151.32,1349.32 L154.06,1348.38 L156.79,1347.44 L159.52,1346.50 L162.25,1345.56 L164.98,1344.61 L167.72,1343.67 L170.45,1342.73 L173.18,1341.79 L175.91,1340.84 L178.64,1339.90 L181.38,1338.96 L184.11,1338.01 L186.84,1337.07 L189.57,1336.13 L192.30,1335.18 L195.04,1334.24 L197.77,1333.29 L200.50,1332.35 L203.23,1331.40 L205.96,1330.46 L208.70,1329.51 L211.43,1328.57 L214.16,1327.62 L216.89,1326.68 L219.62,1325.73 L222.36,1324.79 L225.09,1323.84 L227.82,1322.90" fill="none" stroke="#20e620" stroke-width="2.85" stroke-linecap="butt" stroke-linejoin="round"/>
<path d="M63.90,1455.63 L66.63,1455.67 L69.36,1455.70 L72.10,1455.74 L74.83,1455.78 L77.56,1455.81 L80.29,1455.85 L83.02,1455.88 L85.76,1455.92 L88.49,1455.95 L91.22,1455.99 L93.95,1456.03 L96.68,1456.06 L99.42,1456.10 L102.15,1456.13 L104.88,1456.17 L107.61,1456.20 L110.34,1456.24 L113.08,1456.27 L115.81,1456.31 L118.54,1456.35 L121.27,1456.38 L124.00,1456.42 L126.74,1456.45 L129.47,1456.49 L132.20,1456.52 L134.93,1456.56 L137.66,1456.59 L140.40,1456.63 L143.13,1456.67 L145.86,1456.70 L148.59,1456.74 L151.32,1456.77 L154.06,1456.81 L156.79,1456.84 L159.52,1456.88 L162.25,1456.91 L164.98,1456.95 L167.72,1456.99 L170.45,1457.02 L173.18,1457.06 L175.91,1457.09 L178.64,1457.13 L181.38,1457.16 L184.11,1457.20 L186.84,1457.23 L189.57,1457.27 L192.30,1457.30 L195.04,1457.34 L197.77,1457.38 L200.50,1457.41 L203.23,1457.45 L205.96,1457.48 L208.70,1457.52 L211.43,1457.55 L214.16,1457.59 L216.89,1457.62 L219.62,1457.66 L222.36,1457.69 L225.09,1457.73 L227.82,1457.77" fill="none" stroke="#0000b8" stroke-width="2.85" stroke-linecap="butt" stroke-linejoin="round" stroke-dasharray="11 5.6"/>
<path d="M63.90,1515.81 L66.63,1516.43 L69.36,1517.04 L72.10,1517.65 L74.83,1518.25 L77.56,1518.86 L80.29,1519.46 L83.02,1520.06 L85.76,1520.65 L88.49,1521.24 L91.22,1521.83 L93.95,1522.42 L96.68,1523.01 L99.42,1523.59 L102.15,1524.17 L104.88,1524.74 L107.61,1525.32 L110.34,1525.89 L113.08,1526.46 L115.81,1527.02 L118.54,1527.59 L121.27,1528.15 L124.00,1528.70 L126.74,1529.26 L129.47,1529.81 L132.20,1530.36 L134.93,1530.91 L137.66,1531.45 L140.40,1531.99 L143.13,1532.53 L145.86,1533.07 L148.59,1533.60 L151.32,1534.13 L154.06,1534.66 L156.79,1535.19 L159.52,1535.71 L162.25,1536.23 L164.98,1536.75 L167.72,1537.27 L170.45,1537.78 L173.18,1538.29 L175.91,1538.80 L178.64,1539.30 L181.38,1539.81 L184.11,1540.31 L186.84,1540.80 L189.57,1541.30 L192.30,1541.79 L195.04,1542.28 L197.77,1542.77 L200.50,1543.26 L203.23,1543.74 L205.96,1544.22 L208.70,1544.70 L211.43,1545.17 L214.16,1545.64 L216.89,1546.12 L219.62,1546.58 L222.36,1547.05 L225.09,1547.51 L227.82,1547.97" fill="none" stroke="#cc1010" stroke-width="2.85" stroke-linecap="butt" stroke-linejoin="round" stroke-dasharray="5.4 5.5"/>
<line x1="55.7" x2="236.0" y1="1189.1" y2="1189.1" stroke="#707070" stroke-width="1.35" stroke-linecap="square"/>
<line x1="55.7" x2="55.7" y1="1189.1" y2="1612.4" stroke="#5c5c5c" stroke-width="1.45" stroke-linecap="square"/>
<line x1="236.0" x2="236.0" y1="1189.1" y2="1612.4" stroke="#404040" stroke-width="1.5" stroke-linecap="square"/>
<line x1="55.7" x2="236.0" y1="1612.4" y2="1612.4" stroke="#404040" stroke-width="1.5" stroke-linecap="square"/>
<text x="1.50" y="1187.90" font-size="18" text-anchor="start" fill="#000" >A</text>
<rect x="251.4" y="1346.5" width="128.4" height="109.0" fill="#fff" stroke="#3a3a3a" stroke-width="1.4"/>
<text x="258.90" y="1366.90" font-size="13.7" text-anchor="start" fill="#000" >Country_programs</text>
<line x1="261.4" x2="280.6" y1="1387.6" y2="1387.6" stroke="#20e620" stroke-width="2.85" stroke-linecap="butt"/>
<line x1="261.4" x2="280.6" y1="1411.6" y2="1411.6" stroke="#0000b8" stroke-width="2.85" stroke-dasharray="11 5.6" stroke-linecap="butt"/>
<line x1="261.4" x2="280.6" y1="1435.4" y2="1435.4" stroke="#cc1010" stroke-width="2.85" stroke-dasharray="5.4 5.5" stroke-linecap="butt"/>
<text x="289.90" y="1393.80" font-size="14.2" text-anchor="start" fill="#000" >2</text>
<text x="289.90" y="1417.80" font-size="14.2" text-anchor="start" fill="#000" >1</text>
<text x="289.90" y="1441.60" font-size="14.2" text-anchor="start" fill="#000" >0</text>
<rect x="448.5" y="1189.1" width="180.10000000000002" height="423.3000000000002" fill="#fff"/>
<line x1="448.5" x2="628.6" y1="1563.55" y2="1563.55" stroke="#f0f0f0" stroke-width="1.1"/>
<line x1="448.5" x2="628.6" y1="1445.09" y2="1445.09" stroke="#f0f0f0" stroke-width="1.1"/>
<line x1="448.5" x2="628.6" y1="1326.63" y2="1326.63" stroke="#f0f0f0" stroke-width="1.1"/>
<line x1="448.5" x2="628.6" y1="1208.17" y2="1208.17" stroke="#f0f0f0" stroke-width="1.1"/>
<line x1="476.86" x2="476.86" y1="1189.1" y2="1612.4" stroke="#f0f0f0" stroke-width="1.1"/>
<line x1="517.79" x2="517.79" y1="1189.1" y2="1612.4" stroke="#f0f0f0" stroke-width="1.1"/>
<line x1="558.71" x2="558.71" y1="1189.1" y2="1612.4" stroke="#f0f0f0" stroke-width="1.1"/>
<line x1="599.64" x2="599.64" y1="1189.1" y2="1612.4" stroke="#f0f0f0" stroke-width="1.1"/>
<line x1="448.5" x2="628.6" y1="1504.32" y2="1504.32" stroke="#e7e7e7" stroke-width="1.2"/>
<line x1="448.5" x2="628.6" y1="1385.86" y2="1385.86" stroke="#e7e7e7" stroke-width="1.2"/>
<line x1="448.5" x2="628.6" y1="1267.40" y2="1267.40" stroke="#e7e7e7" stroke-width="1.2"/>
<line x1="456.40" x2="456.40" y1="1189.1" y2="1612.4" stroke="#e7e7e7" stroke-width="1.2"/>
<line x1="497.32" x2="497.32" y1="1189.1" y2="1612.4" stroke="#e7e7e7" stroke-width="1.2"/>
<line x1="538.25" x2="538.25" y1="1189.1" y2="1612.4" stroke="#e7e7e7" stroke-width="1.2"/>
<line x1="579.17" x2="579.17" y1="1189.1" y2="1612.4" stroke="#e7e7e7" stroke-width="1.2"/>
<line x1="620.10" x2="620.10" y1="1189.1" y2="1612.4" stroke="#e7e7e7" stroke-width="1.2"/>
<line x1="444.10" x2="448.5" y1="1504.32" y2="1504.32" stroke="#3a3a3a" stroke-width="1.4"/>
<text x="441.00" y="1509.92" font-size="12.3" text-anchor="end" fill="#4d4d4d" >0.2</text>
<line x1="444.10" x2="448.5" y1="1385.86" y2="1385.86" stroke="#3a3a3a" stroke-width="1.4"/>
<text x="441.00" y="1391.46" font-size="12.3" text-anchor="end" fill="#4d4d4d" >0.4</text>
<line x1="444.10" x2="448.5" y1="1267.40" y2="1267.40" stroke="#3a3a3a" stroke-width="1.4"/>
<text x="441.00" y="1273.00" font-size="12.3" text-anchor="end" fill="#4d4d4d" >0.6</text>
<line x1="456.40" x2="456.40" y1="1612.4" y2="1616.80" stroke="#3a3a3a" stroke-width="1.4"/>
<text x="456.40" y="1629.90" font-size="12.3" text-anchor="middle" fill="#4d4d4d" >0.0</text>
<line x1="497.32" x2="497.32" y1="1612.4" y2="1616.80" stroke="#3a3a3a" stroke-width="1.4"/>
<text x="497.32" y="1629.90" font-size="12.3" text-anchor="middle" fill="#4d4d4d" >0.5</text>
<line x1="538.25" x2="538.25" y1="1612.4" y2="1616.80" stroke="#3a3a3a" stroke-width="1.4"/>
<text x="538.25" y="1629.90" font-size="12.3" text-anchor="middle" fill="#4d4d4d" >1.0</text>
<line x1="579.17" x2="579.17" y1="1612.4" y2="1616.80" stroke="#3a3a3a" stroke-width="1.4"/>
<text x="579.17" y="1629.90" font-size="12.3" text-anchor="middle" fill="#4d4d4d" >1.5</text>
<line x1="620.10" x2="620.10" y1="1612.4" y2="1616.80" stroke="#3a3a3a" stroke-width="1.4"/>
<text x="620.10" y="1629.90" font-size="12.3" text-anchor="middle" fill="#4d4d4d" >2.0</text>
<text x="537.65" y="1647.40" font-size="13.6" text-anchor="middle" fill="#000" >Country_programs</text>
<path d="M456.40,1507.87 L459.13,1506.07 L461.86,1504.24 L464.58,1502.39 L467.31,1500.52 L470.04,1498.63 L472.77,1496.72 L475.50,1494.79 L478.23,1492.83 L480.95,1490.86 L483.68,1488.86 L486.41,1486.84 L489.14,1484.81 L491.87,1482.75 L494.60,1480.67 L497.32,1478.57 L500.05,1476.45 L502.78,1474.31 L505.51,1472.15 L508.24,1469.96 L510.97,1467.76 L513.69,1465.54 L516.42,1463.30 L519.15,1461.04 L521.88,1458.76 L524.61,1456.46 L527.34,1454.14 L530.06,1451.80 L532.79,1449.44 L535.52,1447.07 L538.25,1444.68 L540.98,1442.26 L543.71,1439.83 L546.43,1437.39 L549.16,1434.92 L551.89,1432.44 L554.62,1429.94 L557.35,1427.43 L560.08,1424.90 L562.80,1422.35 L565.53,1419.79 L568.26,1417.21 L570.99,1414.62 L573.72,1412.02 L576.45,1409.40 L579.17,1406.76 L581.90,1404.12 L584.63,1401.46 L587.36,1398.78 L590.09,1396.10 L592.82,1393.40 L595.54,1390.70 L598.27,1387.98 L601.00,1385.25 L603.73,1382.51 L606.46,1379.76 L609.19,1377.01 L611.91,1374.24 L614.64,1371.47 L617.37,1368.69 L620.10,1365.90" fill="none" stroke="#e8553f" stroke-width="2.85" stroke-linecap="butt" stroke-linejoin="round"/>
<path d="M456.40,1517.11 L459.13,1515.11 L461.86,1513.07 L464.58,1511.01 L467.31,1508.92 L470.04,1506.80 L472.77,1504.65 L475.50,1502.47 L478.23,1500.27 L480.95,1498.03 L483.68,1495.77 L486.41,1493.48 L489.14,1491.16 L491.87,1488.81 L494.60,1486.43 L497.32,1484.02 L500.05,1481.59 L502.78,1479.13 L505.51,1476.64 L508.24,1474.12 L510.97,1471.58 L513.69,1469.00 L516.42,1466.41 L519.15,1463.78 L521.88,1461.13 L524.61,1458.45 L527.34,1455.74 L530.06,1453.01 L532.79,1450.26 L535.52,1447.48 L538.25,1444.68 L540.98,1441.85 L543.71,1438.99 L546.43,1436.12 L549.16,1433.22 L551.89,1430.30 L554.62,1427.36 L557.35,1424.40 L560.08,1421.41 L562.80,1418.41 L565.53,1415.38 L568.26,1412.34 L570.99,1409.28 L573.72,1406.20 L576.45,1403.11 L579.17,1399.99 L581.90,1396.87 L584.63,1393.72 L587.36,1390.56 L590.09,1387.39 L592.82,1384.21 L595.54,1381.01 L598.27,1377.80 L601.00,1374.58 L603.73,1371.35 L606.46,1368.11 L609.19,1364.86 L611.91,1361.61 L614.64,1358.35 L617.37,1355.08 L620.10,1351.80" fill="none" stroke="#9c9c10" stroke-width="2.85" stroke-linecap="butt" stroke-linejoin="round"/>
<path d="M456.40,1526.12 L459.13,1523.94 L461.86,1521.73 L464.58,1519.47 L467.31,1517.18 L470.04,1514.86 L472.77,1512.49 L475.50,1510.09 L478.23,1507.65 L480.95,1505.17 L483.68,1502.66 L486.41,1500.10 L489.14,1497.51 L491.87,1494.89 L494.60,1492.22 L497.32,1489.52 L500.05,1486.78 L502.78,1484.00 L505.51,1481.18 L508.24,1478.33 L510.97,1475.45 L513.69,1472.52 L516.42,1469.57 L519.15,1466.57 L521.88,1463.54 L524.61,1460.48 L527.34,1457.39 L530.06,1454.26 L532.79,1451.10 L535.52,1447.90 L538.25,1444.68 L540.98,1441.42 L543.71,1438.13 L546.43,1434.82 L549.16,1431.47 L551.89,1428.10 L554.62,1424.70 L557.35,1421.27 L560.08,1417.82 L562.80,1414.34 L565.53,1410.84 L568.26,1407.32 L570.99,1403.78 L573.72,1400.21 L576.45,1396.63 L579.17,1393.02 L581.90,1389.40 L584.63,1385.76 L587.36,1382.11 L590.09,1378.44 L592.82,1374.76 L595.54,1371.06 L598.27,1367.36 L601.00,1363.65 L603.73,1359.92 L606.46,1356.19 L609.19,1352.45 L611.91,1348.71 L614.64,1344.97 L617.37,1341.22 L620.10,1337.47" fill="none" stroke="#10a860" stroke-width="2.85" stroke-linecap="butt" stroke-linejoin="round"/>
<path d="M456.40,1534.59 L459.13,1532.27 L461.86,1529.92 L464.58,1527.51 L467.31,1525.06 L470.04,1522.56 L472.77,1520.01 L475.50,1517.41 L478.23,1514.77 L480.95,1512.07 L483.68,1509.33 L486.41,1506.54 L489.14,1503.71 L491.87,1500.82 L494.60,1497.89 L497.32,1494.90 L500.05,1491.88 L502.78,1488.80 L505.51,1485.67 L508.24,1482.50 L510.97,1479.29 L513.69,1476.02 L516.42,1472.71 L519.15,1469.36 L521.88,1465.96 L524.61,1462.52 L527.34,1459.03 L530.06,1455.50 L532.79,1451.94 L535.52,1448.33 L538.25,1444.68 L540.98,1440.99 L543.71,1437.26 L546.43,1433.50 L549.16,1429.70 L551.89,1425.87 L554.62,1422.00 L557.35,1418.10 L560.08,1414.17 L562.80,1410.21 L565.53,1406.23 L568.26,1402.21 L570.99,1398.17 L573.72,1394.11 L576.45,1390.03 L579.17,1385.92 L581.90,1381.80 L584.63,1377.66 L587.36,1373.50 L590.09,1369.33 L592.82,1365.15 L595.54,1360.96 L598.27,1356.75 L601.00,1352.54 L603.73,1348.33 L606.46,1344.11 L609.19,1339.89 L611.91,1335.67 L614.64,1331.45 L617.37,1327.23 L620.10,1323.02" fill="none" stroke="#10a0e8" stroke-width="2.85" stroke-linecap="butt" stroke-linejoin="round"/>
<path d="M456.40,1542.58 L459.13,1540.17 L461.86,1537.71 L464.58,1535.18 L467.31,1532.60 L470.04,1529.96 L472.77,1527.26 L475.50,1524.50 L478.23,1521.68 L480.95,1518.80 L483.68,1515.86 L486.41,1512.86 L489.14,1509.80 L491.87,1506.68 L494.60,1503.49 L497.32,1500.25 L500.05,1496.95 L502.78,1493.59 L505.51,1490.17 L508.24,1486.69 L510.97,1483.15 L513.69,1479.55 L516.42,1475.89 L519.15,1472.18 L521.88,1468.41 L524.61,1464.59 L527.34,1460.71 L530.06,1456.78 L532.79,1452.79 L535.52,1448.76 L538.25,1444.68 L540.98,1440.54 L543.71,1436.36 L546.43,1432.14 L549.16,1427.87 L551.89,1423.56 L554.62,1419.21 L557.35,1414.82 L560.08,1410.39 L562.80,1405.93 L565.53,1401.43 L568.26,1396.91 L570.99,1392.35 L573.72,1387.77 L576.45,1383.17 L579.17,1378.54 L581.90,1373.89 L584.63,1369.23 L587.36,1364.55 L590.09,1359.85 L592.82,1355.15 L595.54,1350.44 L598.27,1345.73 L601.00,1341.01 L603.73,1336.29 L606.46,1331.57 L609.19,1326.86 L611.91,1322.15 L614.64,1317.45 L617.37,1312.76 L620.10,1308.09" fill="none" stroke="#e010e8" stroke-width="2.85" stroke-linecap="butt" stroke-linejoin="round"/>
<line x1="456.40" x2="456.40" y1="1189.1" y2="1201.5" stroke="#e010e0" stroke-width="2"/>
<line x1="456.40" x2="456.40" y1="1600.0" y2="1612.4" stroke="#e010e0" stroke-width="2"/>
<line x1="538.25" x2="538.25" y1="1189.1" y2="1201.5" stroke="#e010e0" stroke-width="2"/>
<line x1="538.25" x2="538.25" y1="1600.0" y2="1612.4" stroke="#e010e0" stroke-width="2"/>
<line x1="620.10" x2="620.10" y1="1189.1" y2="1201.5" stroke="#e010e0" stroke-width="2"/>
<line x1="620.10" x2="620.10" y1="1600.0" y2="1612.4" stroke="#e010e0" stroke-width="2"/>
<line x1="448.5" x2="628.6" y1="1189.1" y2="1189.1" stroke="#707070" stroke-width="1.35" stroke-linecap="square"/>
<line x1="448.5" x2="448.5" y1="1189.1" y2="1612.4" stroke="#5c5c5c" stroke-width="1.45" stroke-linecap="square"/>
<line x1="628.6" x2="628.6" y1="1189.1" y2="1612.4" stroke="#404040" stroke-width="1.5" stroke-linecap="square"/>
<line x1="448.5" x2="628.6" y1="1612.4" y2="1612.4" stroke="#404040" stroke-width="1.5" stroke-linecap="square"/>
<text x="394.10" y="1188.20" font-size="18" text-anchor="start" fill="#000" >B</text>
<rect x="643.7" y="1322.3" width="55.0" height="156.9000000000001" fill="#fff" stroke="#1a1a1a" stroke-width="1.4"/>
<text x="651.50" y="1342.90" font-size="13.7" text-anchor="start" fill="#000" >SHr</text>
<line x1="654.4" x2="673.0" y1="1364.1" y2="1364.1" stroke="#e8553f" stroke-width="2.85" stroke-linecap="butt"/>
<text x="683.20" y="1370.30" font-size="14.2" text-anchor="start" fill="#000" >1</text>
<line x1="654.4" x2="673.0" y1="1387.5" y2="1387.5" stroke="#9c9c10" stroke-width="2.85" stroke-linecap="butt"/>
<text x="683.20" y="1393.70" font-size="14.2" text-anchor="start" fill="#000" >2</text>
<line x1="654.4" x2="673.0" y1="1411.7" y2="1411.7" stroke="#10a860" stroke-width="2.85" stroke-linecap="butt"/>
<text x="683.20" y="1417.90" font-size="14.2" text-anchor="start" fill="#000" >3</text>
<line x1="654.4" x2="673.0" y1="1435.1" y2="1435.1" stroke="#10a0e8" stroke-width="2.85" stroke-linecap="butt"/>
<text x="683.20" y="1441.30" font-size="14.2" text-anchor="start" fill="#000" >4</text>
<line x1="654.4" x2="673.0" y1="1459.2" y2="1459.2" stroke="#e010e8" stroke-width="2.85" stroke-linecap="butt"/>
<text x="683.20" y="1465.40" font-size="14.2" text-anchor="start" fill="#000" >5</text>
</svg>
</body></html>
